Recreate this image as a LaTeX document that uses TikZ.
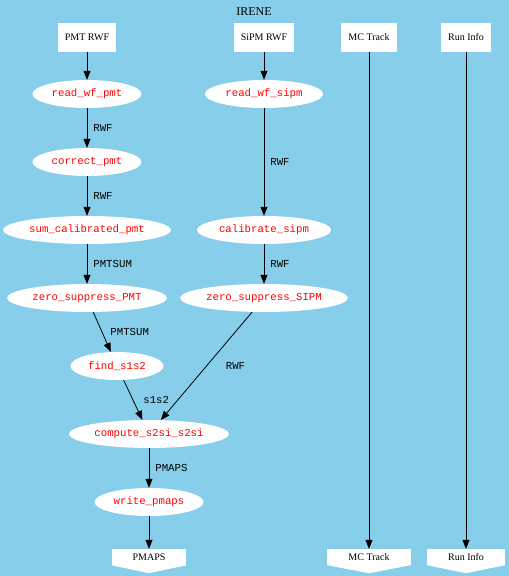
\documentclass[tikz,border=0pt]{standalone}
\usepackage{fontspec}
\setmainfont{Liberation Serif}
\setmonofont{Liberation Mono}
\usepackage{tikz}
\usetikzlibrary{arrows.meta,shapes.geometric}
\definecolor{sky}{HTML}{87CEEB}
\definecolor{fnred}{HTML}{FF0000}

\begin{document}
\begin{tikzpicture}[x=1pt,y=-1pt,
  srcbox/.style={rectangle,fill=white,minimum height=29pt,inner xsep=7pt,inner ysep=0pt,font=\fontsize{10}{12}\selectfont},
  sinkbox/.style={rectangle,fill=white,minimum height=16pt,inner xsep=21pt,inner ysep=0pt,font=\fontsize{10}{12}\selectfont},
  task/.style={ellipse,fill=white,minimum height=28pt,inner sep=0pt,text=fnred,font=\fontsize{10.7}{12}\selectfont\ttfamily},
  flow/.style={-{Triangle[length=9pt,width=7pt]},black,line width=0.8pt},
  lbl/.style={anchor=west,inner sep=0pt,xshift=6pt,text=black,font=\fontsize{10.7}{12}\selectfont\ttfamily}]
\fill[sky] (0,0) rectangle (509,576);
\useasboundingbox (0,0) rectangle (509,576);
\node[font=\fontsize{12}{14}\selectfont] (title) at (254,12) {IRENE};
% sources
\node[srcbox] (pmtrwf) at (87,37) {PMT RWF};
\node[srcbox] (sipmrwf) at (264,37) {SiPM RWF};
\node[srcbox] (mctrack) at (369,37) {MC Track};
\node[srcbox] (runinfo) at (466,37) {Run Info};
% pmt branch
\node[task,minimum width=109pt] (readpmt) at (87,94) {read\_wf\_pmt};
\draw[flow] (pmtrwf) -- (readpmt);
\node[task,minimum width=109pt] (corrpmt) at (87,162) {correct\_pmt};
\draw[flow] (readpmt) -- node[lbl] {RWF} (corrpmt);
\node[task,minimum width=168pt] (sumpmt) at (87,230) {sum\_calibrated\_pmt};
\draw[flow] (corrpmt) -- node[lbl] {RWF} (sumpmt);
\node[task,minimum width=160pt] (zspmt) at (87,298) {zero\_suppress\_PMT};
\draw[flow] (sumpmt) -- node[lbl] {PMTSUM} (zspmt);
\node[task,minimum width=93pt] (finds) at (117,366) {find\_s1s2};
\draw[flow] (zspmt) -- node[lbl,xshift=2pt] {PMTSUM} (finds);
% sipm branch
\node[task,minimum width=118pt] (readsipm) at (264,94) {read\_wf\_sipm};
\draw[flow] (sipmrwf) -- (readsipm);
\node[task,minimum width=134pt] (calsipm) at (264,230) {calibrate\_sipm};
\draw[flow] (readsipm) -- node[lbl] {RWF} (calsipm);
\node[task,minimum width=168pt] (zssipm) at (264,298) {zero\_suppress\_SIPM};
\draw[flow] (calsipm) -- node[lbl] {RWF} (zssipm);
% merge
\node[task,minimum width=160pt] (s2si) at (149,434) {compute\_s2si\_s2si};
\draw[flow] (finds) -- node[lbl,xshift=4pt] {s1s2} (s2si);
\draw[flow] (zssipm) -- node[lbl,xshift=13pt] {RWF} (s2si);
\node[task,minimum width=109pt] (writepm) at (149,502) {write\_pmaps};
\draw[flow] (s2si) -- node[lbl] {PMAPS} (writepm);
% sinks
\node[sinkbox] (pmaps) at (149,557) {PMAPS};
\fill[white] (pmaps.south west) -- (pmaps.south east) -- ([yshift=-8pt]pmaps.south) -- cycle;
\draw[flow] (writepm) -- (pmaps);
\node[sinkbox] (mcout) at (369,557) {MC Track};
\fill[white] (mcout.south west) -- (mcout.south east) -- ([yshift=-8pt]mcout.south) -- cycle;
\draw[flow] (mctrack) -- (mcout);
\node[sinkbox] (runout) at (466,557) {Run Info};
\fill[white] (runout.south west) -- (runout.south east) -- ([yshift=-8pt]runout.south) -- cycle;
\draw[flow] (runinfo) -- (runout);
\end{tikzpicture}
\end{document}
